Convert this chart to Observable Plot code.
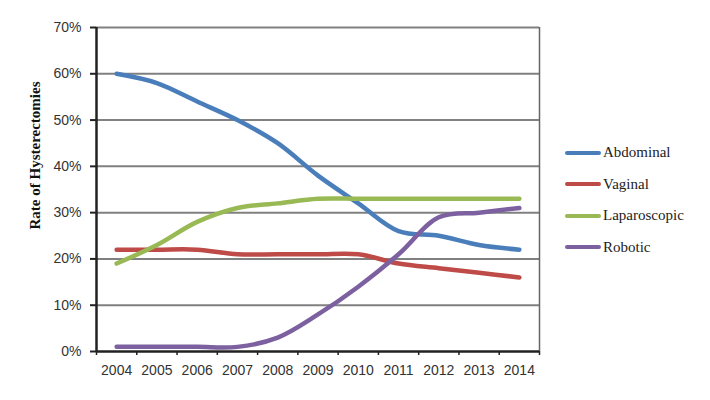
<!DOCTYPE html>
<html>
<head>
<meta charset="utf-8">
<script src="https://cdn.jsdelivr.net/npm/d3@7"></script>
<script src="https://cdn.jsdelivr.net/npm/@observablehq/plot@0.6"></script>
<style>
  html, body { margin: 0; padding: 0; background: #fff; }
  #wrap { position: relative; width: 710px; height: 400px; }
  #legend { position: absolute; left: 565px; top: 137px; font-family: "Liberation Serif", serif; font-size: 15px; color: #222; }
  .item { display: flex; align-items: center; height: 31.5px; }
  .swatch { width: 36px; height: 4px; border-radius: 2px; margin-right: 2px; }
</style>
</head>
<body>
<div id="wrap"><div id="legend"></div></div>
<script>
const years = ["2004","2005","2006","2007","2008","2009","2010","2011","2012","2013","2014"];
const seriesNames = ["Abdominal","Vaginal","Laparoscopic","Robotic"];
const colors = ["#4A7EBB","#BE4B48","#98B954","#7D60A0"];
const abdominal   = [60, 58, 54, 50, 45, 38, 32, 26, 25, 23, 22];
const vaginal     = [22, 22, 22, 21, 21, 21, 21, 19, 18, 17, 16];
const laparoscopic= [19, 23, 28, 31, 32, 33, 33, 33, 33, 33, 33];
const robotic     = [1, 1, 1, 1, 3, 8, 14, 21, 29, 30, 31];
const yTicks = [0, 10, 20, 30, 40, 50, 60, 70];

const valuesBySeries = [abdominal, vaginal, laparoscopic, robotic];
const data = [];
seriesNames.forEach((s, i) => {
  valuesBySeries[i].forEach((v, j) => data.push({series: s, year: +years[j], value: v}));
});
const yearNums = years.map(Number);
const boundaries = d3.range(yearNums.length + 1).map(i => yearNums[0] - 0.5 + i);

const chart = Plot.plot({
  width: 710,
  height: 400,
  marginLeft: 96,
  marginRight: 171,
  marginTop: 27,
  marginBottom: 49,
  style: {fontFamily: "'Liberation Sans', sans-serif", fontSize: "14px", color: "#333", background: "#fff"},
  x: {type: "linear", domain: [boundaries[0], boundaries[boundaries.length - 1]]},
  y: {domain: [0, 70]},
  color: {domain: seriesNames, range: colors},
  marks: [
    Plot.ruleY(yTicks.filter(t => t > 0), {stroke: "#808080", strokeWidth: 2}),
    Plot.ruleX([boundaries[boundaries.length - 1]], {stroke: "#666", strokeWidth: 1.5}),
    Plot.axisY({ticks: yTicks, tickSize: 6, tickPadding: 9, tickFormat: d => d + "%", stroke: "#222", strokeWidth: 2, fill: "#333", label: null}),
    Plot.axisX({ticks: boundaries, tickSize: 4, tickFormat: () => "", stroke: "#222", strokeWidth: 1.5, label: null}),
    Plot.axisX({ticks: yearNums, tickSize: 0, tickPadding: 14, tickFormat: d => String(d), fill: "#333", label: null}),
    Plot.ruleX([boundaries[0]], {stroke: "#222", strokeWidth: 2.5}),
    Plot.ruleY([0], {stroke: "#222", strokeWidth: 2.5}),
    Plot.line(data, {x: "year", y: "value", z: "series", stroke: "series", strokeWidth: 4.5, curve: "catmull-rom"}),
    Plot.text(["Rate of Hysterectomies"], {frameAnchor: "left", dx: -61, dy: 40, rotate: -90, fontWeight: "bold", fontSize: 15, fontFamily: "'Liberation Serif', serif", fill: "#111"})
  ]
});
document.getElementById("wrap").prepend(chart);
chart.style.position = "absolute";
chart.style.left = "0";
chart.style.top = "0";

const legend = document.getElementById("legend");
seriesNames.forEach((s, i) => {
  const item = document.createElement("div");
  item.className = "item";
  const sw = document.createElement("div");
  sw.className = "swatch";
  sw.style.background = colors[i];
  const lab = document.createElement("span");
  lab.textContent = s;
  item.append(sw, lab);
  legend.append(item);
});
</script>
</body>
</html>
